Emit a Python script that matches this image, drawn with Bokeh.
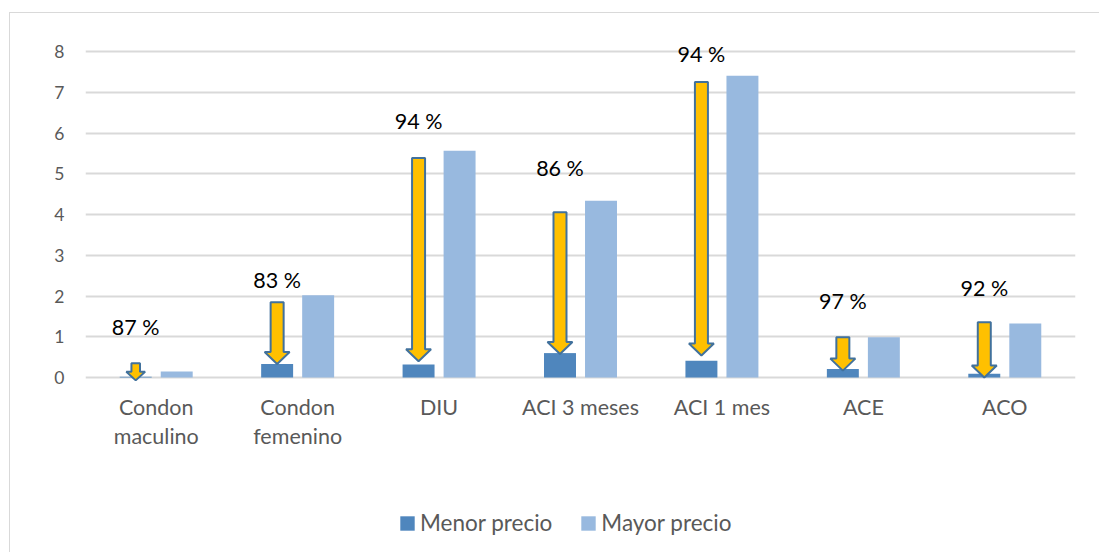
from bokeh.plotting import figure
from bokeh.models import ColumnDataSource, FactorRange, Range1d, Legend, LegendItem, FixedTicker
from bokeh.transform import dodge
from bokeh.core.properties import value
from bokeh.embed import file_html
from bokeh.resources import INLINE

# Métodos anticonceptivos y sus precios (menor / mayor)
categorias = ["Condon maculino", "Condon femenino", "DIU", "ACI 3 meses",
              "ACI 1 mes", "ACE", "ACO"]
etiquetas_eje = [["Condon", "maculino"], ["Condon", "femenino"], ["DIU"],
                 ["ACI 3 meses"], ["ACI 1 mes"], ["ACE"], ["ACO"]]
menor_precio = [0.02, 0.33, 0.32, 0.60, 0.41, 0.21, 0.09]
mayor_precio = [0.15, 2.02, 5.57, 4.34, 7.41, 0.99, 1.33]

# Flechas de diferencia: inicio y punta (en unidades del eje Y)
flecha_inicio = [0.35, 1.85, 5.39, 4.06, 7.26, 0.99, 1.36]
flecha_punta = [-0.07, 0.33, 0.40, 0.58, 0.54, 0.17, 0.00]

# Porcentaje de diferencia y altura de su rótulo
porcentajes = ["87 %", "83 %", "94 %", "86 %", "94 %", "97 %", "92 %"]
altura_rotulo = [1.25, 2.40, 6.31, 5.15, 7.95, 1.87, 2.21]

FONT = "Lato"
GRIS = "#595959"
LINEA = "#D9D9D9"
AZUL = "#4F86BD"
AZUL_CLARO = "#98B9DF"

# El marco llega hasta el pie para alojar los rótulos de categoría y la leyenda
Y0, Y1 = -4.2, 8.5
W, H = 1095, 545
ML, MR, MT = 75, 30, 18
FW = W - ML - MR
FH = 517
MB = H - MT - FH

p = figure(x_range=FactorRange(*categorias, range_padding=0),
           y_range=Range1d(Y0, Y1),
           width=W, height=H, output_backend="svg", toolbar_location=None,
           min_border_left=ML, min_border_right=MR,
           min_border_top=MT, min_border_bottom=MB)
p.margin = (12, 0, 0, 9)
p.styles = {"border-left": f"1px solid {LINEA}", "border-top": f"1px solid {LINEA}"}
p.outline_line_color = None
p.background_fill_color = "white"
p.border_fill_color = "white"

src = ColumnDataSource(dict(cat=categorias, menor=menor_precio, mayor=mayor_precio))
off = 0.145
bw = 0.226
r_menor = p.vbar(x=dodge("cat", -off, range=p.x_range), top="menor", bottom=0,
                 width=bw, source=src, fill_color=AZUL, line_color=None)
r_mayor = p.vbar(x=dodge("cat", off, range=p.x_range), top="mayor", bottom=0,
                 width=bw, source=src, fill_color=AZUL_CLARO, line_color=None)

# Flechas de bloque dibujadas como polígonos, dimensiones en píxeles
ux = 7 / FW      # unidades de categoría por píxel
uy = (Y1 - Y0) / FH
xs, ys = [], []
for i, (a, b) in enumerate(zip(flecha_inicio, flecha_punta)):
    xc = i + 0.5 - off
    L = (a - b) / uy
    hl = min(12.0, 0.5 * L)
    hw = min(12.5, 0.55 * L)
    sw = min(6.5, 0.25 * L)
    yh = b + hl * uy
    xs.append([xc - sw * ux, xc + sw * ux, xc + sw * ux, xc + hw * ux,
               xc, xc - hw * ux, xc - sw * ux])
    ys.append([a, a, yh, yh, b, yh, yh])
p.patches(xs, ys, fill_color="#FFC000", line_color="#41719C", line_width=2)

# Rótulos de porcentaje
txt = ColumnDataSource(dict(x=[i + 0.5 - off for i in range(7)],
                            y=altura_rotulo, t=porcentajes))
p.text(x="x", y="y", text="t", source=txt, text_align="center",
       text_baseline="middle", text_font=value(FONT), text_font_size="21.5px",
       text_color="#000000")

# Rótulos de categoría (una o dos líneas) bajo la línea base
lx, ly, lt = [], [], []
linea_px = 29
for i, lineas in enumerate(etiquetas_eje):
    for k, t in enumerate(lineas):
        lx.append(i + 0.5)
        ly.append(-(29 + k * linea_px) * uy)
        lt.append(t)
p.text(x=lx, y=ly, text=lt, text_align="center", text_baseline="middle",
       text_font=value(FONT), text_font_size="21.5px", text_color=GRIS)

# Ejes y rejilla
p.yaxis.ticker = FixedTicker(ticks=list(range(0, 9)))
p.yaxis.axis_line_color = None
p.yaxis.major_tick_line_color = None
p.yaxis.minor_tick_line_color = None
p.yaxis.major_tick_out = 0
p.yaxis.major_label_standoff = 21
p.yaxis.major_label_text_font = FONT
p.yaxis.major_label_text_font_size = "17.5px"
p.yaxis.major_label_text_color = GRIS
p.xaxis.visible = False

p.xgrid.grid_line_color = None
p.ygrid.grid_line_color = LINEA
p.ygrid.grid_line_width = 1.8

legend = Legend(items=[LegendItem(label="Menor precio", renderers=[r_menor]),
                       LegendItem(label="Mayor precio", renderers=[r_mayor])],
                orientation="horizontal", location=(313, 12),
                glyph_width=18, glyph_height=18, label_standoff=4, spacing=27,
                padding=0, margin=0, border_line_color=None,
                background_fill_alpha=0,
                label_text_font=FONT, label_text_font_size="22.5px",
                label_text_color=GRIS)
p.add_layout(legend, "center")

open("out.html", "w").write(file_html(p, INLINE))
